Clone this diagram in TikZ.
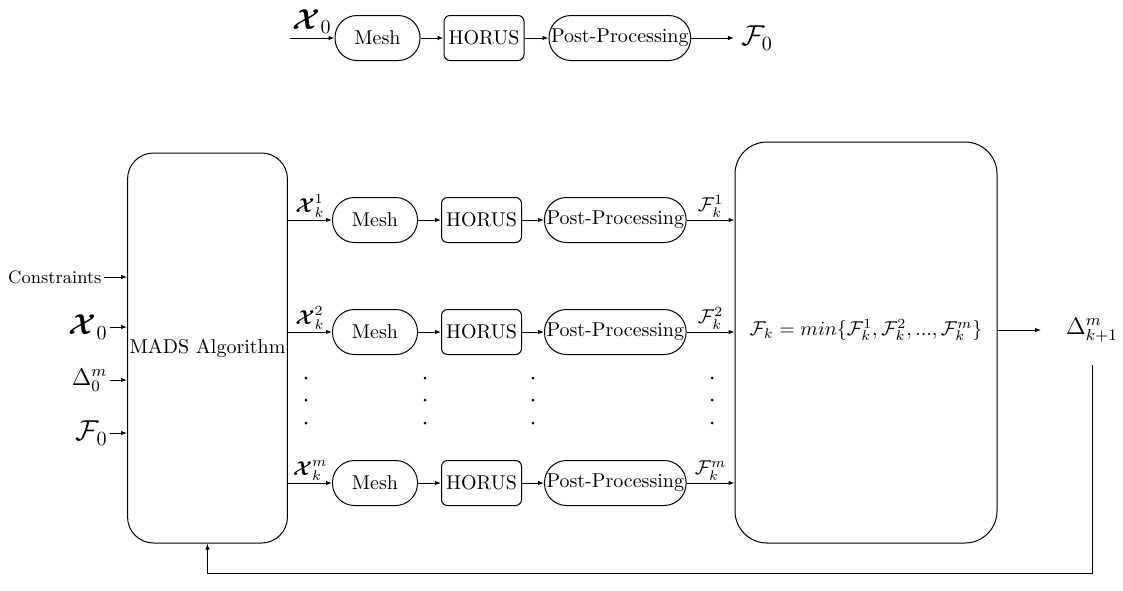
\documentclass[tikz,border=0pt]{standalone}
\usepackage{amsmath}
\usepackage{amssymb}
\usepackage{tikz}
\usetikzlibrary{positioning, arrows.meta}

\begin{document}
\begin{tikzpicture}[x=0.5pt, y=-0.5pt, line width=0.5pt, >={Latex[length=3pt,width=2.2pt]},
    roundbox/.style={draw, rounded corners=11pt, minimum height=22.5pt, inner sep=1pt},
    horusbox/.style={draw, rounded corners=3pt, minimum height=22.5pt, minimum width=40pt, inner sep=1pt},
    inlabel/.style={anchor=east, inner sep=1pt}]
\useasboundingbox (0,0) rectangle (1123,590);
% single evaluation
\node[roundbox, minimum width=42.5pt] (mesh0) at (377.5,38) {Mesh};
\node[horusbox, right=11.5pt of mesh0] (horus0) {HORUS};
\node[roundbox, minimum width=70.5pt, right=12pt of horus0] (post0) {Post-Processing};
\coordinate (in0) at (290,38);
\node (f0) at (757,38) {\Large $\mathcal{F}_0$};
\draw[->] (in0) -- node[above, inner sep=2pt] {\Large $\boldsymbol{\mathcal{X}}_0$} (mesh0);
\draw[->] (mesh0) -- (horus0);
\draw[->] (horus0) -- (post0);
\draw[->] (post0) -- (f0);
% optimisation loop
\node[draw, rounded corners=13pt, minimum width=79.5pt, minimum height=195pt, inner sep=1pt] (mads) at (207.5,348) {MADS Algorithm};
\node[draw, rounded corners=16pt, minimum width=131pt, minimum height=200.5pt] (minbox) at (866,342.5) {};
\node (fmin) at (866,330) {$\mathcal{F}_k = min\{\mathcal{F}_k^1, \mathcal{F}_k^2, ..., \mathcal{F}_k^m\}$};
\node (delta) at (1092,330) {\large $\Delta_{k+1}^m$};
\node[inlabel] (cons) at (104,277) {\small Constraints};
\node[inlabel] (x0) at (110,327) {\Large $\boldsymbol{\mathcal{X}}_0$};
\node[inlabel] (d0) at (110,380) {\large $\Delta_0^m$};
\node[inlabel] (fk0) at (110,433) {\Large $\mathcal{F}_0$};
\draw[->] (cons) -- (cons -| mads.west);
\draw[->] (x0) -- (x0 -| mads.west);
\draw[->] (d0) -- (d0 -| mads.west);
\draw[->] (fk0) -- (fk0 -| mads.west);
% row 1
\node[roundbox, minimum width=42.5pt] (mesh1) at (375,220) {Mesh};
\node[horusbox, right=11.5pt of mesh1] (horus1) {HORUS};
\node[roundbox, minimum width=70.5pt, right=11pt of horus1] (post1) {Post-Processing};
\draw[->] (mads.east |- mesh1) -- node[above, inner sep=1pt] {$\boldsymbol{\mathcal{X}}_k^1$} (mesh1);
\draw[->] (mesh1) -- (horus1);
\draw[->] (horus1) -- (post1);
\draw[->] (post1) -- node[above, inner sep=1pt] {$\mathcal{F}_k^1$} (minbox.west |- post1);
% row 2
\node[roundbox, minimum width=42.5pt] (mesh2) at (375,332) {Mesh};
\node[horusbox, right=11.5pt of mesh2] (horus2) {HORUS};
\node[roundbox, minimum width=70.5pt, right=11pt of horus2] (post2) {Post-Processing};
\draw[->] (mads.east |- mesh2) -- node[above, inner sep=1pt] {$\boldsymbol{\mathcal{X}}_k^2$} (mesh2);
\draw[->] (mesh2) -- (horus2);
\draw[->] (horus2) -- (post2);
\draw[->] (post2) -- node[above, inner sep=1pt] {$\mathcal{F}_k^2$} (minbox.west |- post2);
% row m
\node[roundbox, minimum width=42.5pt] (meshm) at (375,483) {Mesh};
\node[horusbox, right=11.5pt of meshm] (horusm) {HORUS};
\node[roundbox, minimum width=70.5pt, right=11pt of horusm] (postm) {Post-Processing};
\draw[->] (mads.east |- meshm) -- node[above, inner sep=1pt] {$\boldsymbol{\mathcal{X}}_k^m$} (meshm);
\draw[->] (meshm) -- (horusm);
\draw[->] (horusm) -- (postm);
\draw[->] (postm) -- node[above, inner sep=1pt] {$\mathcal{F}_k^m$} (minbox.west |- postm);
\foreach \x in {306,425,533,712}
  \foreach \y in {378,400,423}
    \fill (\x,\y) circle (0.75pt);
% feedback
\coordinate (fb) at (0,573);
\draw[->, shorten >=9pt] (minbox.east |- fmin) -- (delta.west);
\draw[->, shorten <=8pt] (delta) -- (delta |- fb) -| (mads.south);
\end{tikzpicture}
\end{document}
